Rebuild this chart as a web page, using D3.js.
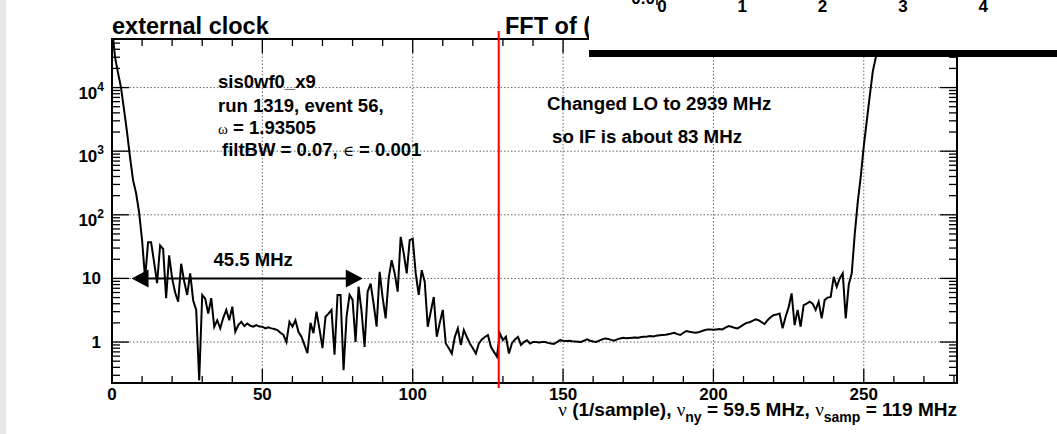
<!DOCTYPE html>
<html>
<head>
<meta charset="utf-8">
<script src="https://cdn.jsdelivr.net/npm/d3@7"></script>
<style>
  html, body { margin: 0; padding: 0; background: #fff; }
  svg { display: block; }
  text { font-family: "Liberation Sans", Arial, sans-serif; font-weight: bold; fill: #000; }
  .sym { font-family: "Liberation Serif", "DejaVu Serif", serif; font-weight: normal; }
</style>
</head>
<body>
<svg id="chart" width="1057" height="434"></svg>
<script>
// FFT magnitude per frequency bin (bin index = array index)
const spectrum = [
  90000, 30000, 17000, 10000, 4500, 2000, 800, 350, 220, 110,
  40, 10, 37, 37, 18, 8.4, 33, 29, 4.9, 23,
  10, 6, 4.3, 17, 9, 5.5, 12, 4.5, 3.2, 0.25,
  5.5, 4.8, 2.8, 4.9, 1.74, 2.2, 1.64, 2.4, 3.2, 2.2,
  3.6, 1.45, 1.85, 2.08, 1.78, 1.96, 1.8, 1.74, 1.85, 1.75,
  1.74, 1.64, 1.7, 1.64, 1.6, 1.54, 1.4, 1.3, 1.0, 2.08,
  1.74, 2.2, 1.45, 1.21, 0.9, 0.67, 2.0, 1.38, 3.0, 1.6,
  0.8, 2.5, 2.8, 3.2, 0.63, 5.5, 5.5, 0.36, 2.5, 5.5,
  4.6, 1.0, 7.4, 3.0, 0.84, 6.2, 8.3, 4.0, 1.74, 12.7,
  5.0, 2.35, 10, 19.4, 12, 6.2, 45, 25, 12, 40,
  42, 12, 5.5, 13.5, 8.8, 1.74, 3.0, 5.1, 1.21, 2.0,
  3.2, 0.95, 0.8, 0.66, 1.2, 1.64, 0.9, 1.54, 1.2, 0.95,
  0.8, 0.66, 0.95, 1.1, 1.2, 1.29, 0.84, 0.7, 0.59, 1.37,
  1.07, 1.21, 0.66, 0.96, 1.1, 1.2, 0.9, 1.0, 1.07, 0.95,
  1.0, 1.0, 0.98, 1.0, 1.0, 0.97, 0.95, 0.93, 1.0, 1.07,
  1.05, 1.04, 1.05, 1.03, 1.02, 1.01, 1.0, 1.05, 1.1, 1.05,
  1.02, 1.0, 1.05, 1.1, 1.14, 1.12, 1.08, 1.05, 1.1, 1.14,
  1.17, 1.15, 1.16, 1.17, 1.18, 1.17, 1.2, 1.21, 1.22, 1.24,
  1.22, 1.26, 1.28, 1.29, 1.3, 1.33, 1.36, 1.4, 1.33, 1.29,
  1.4, 1.49, 1.45, 1.42, 1.4, 1.42, 1.48, 1.53, 1.58, 1.57,
  1.56, 1.58, 1.6, 1.58, 1.68, 1.78, 1.74, 1.68, 1.64, 1.75,
  1.88, 2.0, 2.05, 2.15, 2.27, 2.2, 2.05, 1.92, 2.2, 2.45,
  2.65, 2.7, 2.8, 1.64, 2.5, 3.5, 5.8, 1.85, 3.2, 1.74,
  3.8, 4.0, 4.3, 4.0, 3.2, 4.3, 2.35, 4.6, 5.0, 5.1,
  10.6, 7.4, 10, 12, 2.35, 8, 12, 50, 160, 400,
  1200, 3000, 7500, 18000, 30000, 60000, 120000
];

const xTickValues = [0, 50, 100, 150, 200, 250];
const yDecades = [1, 10, 100, 1000, 10000];
const yTickLabels = [["1", ""], ["10", ""], ["10", "2"], ["10", "3"], ["10", "4"]];
const markerBin = 128.6;              // red marker line
const spanStart = 6.5, spanEnd = 83.4; // "45.5 MHz" double arrow (bins)
const spanLevel = 10;
const spanLabel = "45.5 MHz";
const infoLines = ["sis0wf0_x9", "run 1319, event 56,"];
const noteLines = ["Changed LO to 2939 MHz", "so IF is about 83 MHz"];
const insetTicks = ["0", "1", "2", "3", "4"];

const svg = d3.select("#chart");
const W = 1057, H = 434;
const frame = { left: 112, right: 957, top: 39, bottom: 383 };

const x = d3.scaleLinear().domain([0, 281]).range([frame.left, frame.right]);
const y = d3.scaleLog().domain([0.227, 58000]).range([frame.bottom, frame.top]);

// canvas and its grey left margin strip
svg.append("rect").attr("x", 0).attr("y", 0).attr("width", W).attr("height", H).attr("fill", "#fff");
svg.append("rect").attr("x", 0).attr("y", 0).attr("width", 6).attr("height", H).attr("fill", "#e6e6e6");

// dotted grid
const grid = svg.append("g").attr("stroke", "#666").attr("stroke-width", 1).attr("stroke-dasharray", "1.5,2");
grid.selectAll("line.gx").data(xTickValues.filter(d => d > 0)).join("line")
  .attr("x1", d => x(d)).attr("x2", d => x(d)).attr("y1", frame.top).attr("y2", frame.bottom);
grid.selectAll("line.gy").data(yDecades).join("line")
  .attr("x1", frame.left).attr("x2", frame.right).attr("y1", d => y(d)).attr("y2", d => y(d));

// tick marks on all four sides
const ticks = svg.append("g").attr("stroke", "#000").attr("stroke-width", 1.3);
d3.range(0, 281, 10).forEach(v => {
  const len = v % 50 === 0 ? 14 : 7;
  ticks.append("line").attr("x1", x(v)).attr("x2", x(v)).attr("y1", frame.bottom).attr("y2", frame.bottom - len);
  ticks.append("line").attr("x1", x(v)).attr("x2", x(v)).attr("y1", frame.top).attr("y2", frame.top + len);
});
const logTicks = [];
for (let e = -1; e <= 4; e++) {
  for (let m = 1; m <= 9; m++) {
    const v = m * Math.pow(10, e);
    if (v >= y.domain()[0] && v <= y.domain()[1]) logTicks.push({ v, major: m === 1 });
  }
}
logTicks.forEach(t => {
  const len = t.major ? 17 : 8;
  ticks.append("line").attr("x1", frame.left).attr("x2", frame.left + len).attr("y1", y(t.v)).attr("y2", y(t.v));
  ticks.append("line").attr("x1", frame.right).attr("x2", frame.right - len).attr("y1", y(t.v)).attr("y2", y(t.v));
});

// spectrum curve
svg.append("clipPath").attr("id", "plotclip").append("rect")
  .attr("x", frame.left).attr("y", frame.top)
  .attr("width", frame.right - frame.left).attr("height", frame.bottom - frame.top);
const line = d3.line().x((d, i) => x(i)).y(d => y(d));
svg.append("path").datum(spectrum).attr("d", line)
  .attr("clip-path", "url(#plotclip)")
  .attr("fill", "none").attr("stroke", "#000").attr("stroke-width", 2);

// frame
svg.append("rect").attr("x", frame.left).attr("y", frame.top)
  .attr("width", frame.right - frame.left).attr("height", frame.bottom - frame.top)
  .attr("fill", "none").attr("stroke", "#000").attr("stroke-width", 2);

// tick labels
svg.append("g").selectAll("text").data(xTickValues).join("text")
  .attr("x", d => x(d)).attr("y", 400).attr("text-anchor", "middle")
  .attr("font-size", 17).text(d => d);
const yl = svg.append("g").selectAll("text").data(yDecades).join("text")
  .attr("x", (d, i) => yTickLabels[i][1] ? 104 : 101)
  .attr("y", (d, i) => y(d) + (yTickLabels[i][1] ? 11 : 6))
  .attr("text-anchor", "end").attr("font-size", 17);
yl.each(function(d, i) {
  const t = d3.select(this);
  t.append("tspan").text(yTickLabels[i][0]);
  if (yTickLabels[i][1]) t.append("tspan").attr("font-size", 12).attr("dy", -8).text(yTickLabels[i][1]);
});

// x axis title
const xt = svg.append("text").attr("x", frame.right).attr("y", 416).attr("text-anchor", "end").attr("font-size", 19);
xt.append("tspan").attr("class", "sym").text("ν");
xt.append("tspan").text(" (1/sample), ");
xt.append("tspan").attr("class", "sym").text("ν");
xt.append("tspan").attr("font-size", 14).attr("dy", 6).text("ny");
xt.append("tspan").attr("dy", -6).text(" = 59.5 MHz, ");
xt.append("tspan").attr("class", "sym").text("ν");
xt.append("tspan").attr("font-size", 14).attr("dy", 6).text("samp");
xt.append("tspan").attr("dy", -6).text(" = 119 MHz");

// info text block
const info = svg.append("g");
info.append("text").attr("x", 218).attr("y", 88).attr("font-size", 18.5).text(infoLines[0]);
info.append("text").attr("x", 218).attr("y", 112).attr("font-size", 18.5).text(infoLines[1]);
const om = info.append("text").attr("x", 218).attr("y", 134).attr("font-size", 18.5);
om.append("tspan").attr("class", "sym").attr("font-size", 15).text(" ω");
om.append("tspan").text(" = 1.93505");
const fb = info.append("text").attr("x", 222).attr("y", 156).attr("font-size", 18.5);
fb.append("tspan").text("filtBW = 0.07, ");
fb.append("tspan").attr("class", "sym").attr("font-size", 15).text("∈");
fb.append("tspan").text(" = 0.001");

svg.append("text").attr("x", 547).attr("y", 110).attr("font-size", 18.7).text(noteLines[0]);
svg.append("text").attr("x", 552).attr("y", 143).attr("font-size", 18.7).text(noteLines[1]);

// 45.5 MHz span arrow
const ay = y(spanLevel);
const ax1 = x(spanStart), ax2 = x(spanEnd);
svg.append("line").attr("x1", ax1 + 4).attr("x2", ax2 - 4).attr("y1", ay).attr("y2", ay).attr("stroke", "#000").attr("stroke-width", 2);
svg.append("path").attr("d", `M${ax1},${ay} L${ax1 + 17},${ay - 9} L${ax1 + 17},${ay + 9} Z`).attr("fill", "#000");
svg.append("path").attr("d", `M${ax2},${ay} L${ax2 - 17},${ay - 9} L${ax2 - 17},${ay + 9} Z`).attr("fill", "#000");
svg.append("text").attr("x", (ax1 + ax2) / 2 + 6).attr("y", 266).attr("text-anchor", "middle").attr("font-size", 18.5).text(spanLabel);

// pad titles
svg.append("text").attr("x", 112).attr("y", 34).attr("font-size", 23.5).text("external clock");
svg.append("text").attr("x", 505).attr("y", 34).attr("font-size", 23.5).text("FFT of (");

// red marker
svg.append("line").attr("x1", x(markerBin)).attr("x2", x(markerBin)).attr("y1", 31).attr("y2", 388)
  .attr("stroke", "#ff0000").attr("stroke-width", 2);

// overlapping inset pad (top right)
const inset = svg.append("g");
inset.append("rect").attr("x", 589).attr("y", 0).attr("width", W - 589).attr("height", 50).attr("fill", "#fff");
inset.append("rect").attr("x", 589).attr("y", 50).attr("width", W - 589).attr("height", 7).attr("fill", "#000");
inset.append("text").attr("x", 655).attr("y", 4).attr("text-anchor", "end").attr("font-size", 17).text("0.0");
inset.append("line").attr("x1", 657).attr("x2", 657).attr("y1", 0).attr("y2", 5).attr("stroke", "#000").attr("stroke-width", 1.5);
inset.selectAll("text.it").data(insetTicks).join("text").attr("class", "it")
  .attr("x", (d, i) => 662 + i * 80.3).attr("y", 12).attr("text-anchor", "middle").attr("font-size", 17).text(d => d);
</script>
</body>
</html>
